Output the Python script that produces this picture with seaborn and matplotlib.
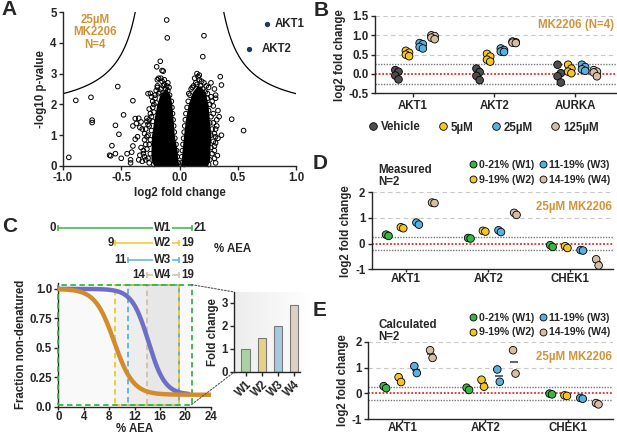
import numpy as np
import pandas as pd
import seaborn as sns
import matplotlib.pyplot as plt
from matplotlib.lines import Line2D
from matplotlib.patches import Rectangle, ConnectionPatch

# ---------------- data ----------------
# A: volcano, scattered proteins outside the dense core
volc_x = [-0.95, -0.89, -0.76, -0.75, -0.75, -0.53, -0.40, -0.48, -0.55, -0.52, -0.58,
          -0.60, -0.59, -0.55, -0.50, -0.45, -0.42, -0.42, -0.41, -0.40, -0.38, -0.40,
          -0.38, -0.35, -0.37, -0.34, -0.33, -0.32, -0.28, -0.27, -0.25, -0.196, -0.165,
          -0.15, -0.14, -0.11, -0.105, -0.19, -0.18, -0.13, -0.10, -0.09,
          0.21, 0.20, 0.15, 0.17, 0.16, 0.35, 0.36, 0.27, 0.30, 0.31, 0.31, 0.33, 0.32,
          0.448, 0.55, 0.36, 0.325, 0.31, 0.31, 0.19, 0.16, 0.13]
volc_y = [0.28, 2.13, 2.23, 1.49, 1.41, 2.58, 2.12, 1.66, 1.32, 1.03, 0.66,
          0.35, 0.33, 0.40, 0.25, 0.40, 0.20, 0.10, 0.45, 0.65, 0.87, 1.30,
          1.54, 1.55, 1.38, 1.25, 1.43, 1.20, 1.45, 2.35, 2.36, 3.22, 3.40,
          3.10, 3.08, 4.74, 4.16, 2.80, 2.85, 2.80, 2.70, 2.55,
          4.23, 3.55, 3.00, 2.95, 2.90, 2.90, 2.63, 2.70, 2.50, 2.30, 2.20, 1.80, 1.50,
          1.52, 1.15, 1.00, 0.34, 0.95, 1.20, 0.15, 0.12, 0.10]
# points along the ragged edge of the two dense lobes
edge_x = [-0.26, -0.27, -0.25, -0.28, -0.26, -0.25, -0.27, -0.24, -0.26, -0.23, -0.24, -0.22,
          -0.23, -0.20, -0.21, -0.18, -0.16, -0.14, -0.12, -0.10, -0.085, -0.07, -0.065, -0.06,
          -0.055, -0.05, -0.045, -0.04, -0.03, -0.025, -0.02, -0.01,
          -0.30, -0.31, -0.30, -0.29, -0.32, -0.35, -0.28, -0.26, -0.24, -0.20, -0.22, -0.33,
          -0.36, -0.30, -0.29, -0.31, -0.27, -0.34, -0.28, -0.25, -0.23, -0.19, -0.17, -0.15,
          -0.13, -0.11, -0.16, -0.21, -0.19, -0.22, -0.26, -0.29,
          0.015, 0.02, 0.025, 0.03, 0.035, 0.04, 0.045, 0.05, 0.055, 0.065, 0.075, 0.09, 0.10,
          0.12, 0.15, 0.18, 0.20, 0.22, 0.24, 0.26, 0.25, 0.27, 0.26, 0.28, 0.27, 0.29, 0.27,
          0.28, 0.26, 0.25,
          0.30, 0.31, 0.30, 0.32, 0.29, 0.28, 0.25, 0.21, 0.30, 0.33, 0.34, 0.29, 0.31,
          0.23, 0.19, 0.14, 0.11, 0.08, 0.17, 0.13, 0.24, 0.27, 0.29, 0.30, 0.06, 0.04]
edge_y = [0.10, 0.25, 0.40, 0.55, 0.70, 0.85, 1.00, 1.15, 1.30, 1.45, 1.60, 1.75,
          1.90, 2.05, 2.20, 2.35, 2.50, 2.60, 2.50, 2.45, 2.30, 2.10, 1.90, 1.70,
          1.50, 1.30, 1.10, 0.90, 0.70, 0.50, 0.30, 0.10,
          0.30, 0.50, 0.85, 1.20, 0.15, 0.20, 1.55, 1.85, 2.25, 2.45, 0.05, 0.60,
          0.95, 1.05, 0.70, 0.40, 1.35, 0.35, 0.95, 1.70, 2.10, 2.60, 2.40, 2.75,
          2.65, 2.60, 2.85, 2.30, 2.55, 2.00, 1.50, 0.20,
          0.10, 0.30, 0.50, 0.70, 0.90, 1.10, 1.30, 1.50, 1.70, 1.90, 2.10, 2.30, 2.50,
          2.60, 2.65, 2.60, 2.50, 2.40, 2.20, 2.00, 1.80, 1.60, 1.40, 1.20, 1.00, 0.80, 0.60,
          0.40, 0.20, 0.05,
          0.50, 0.75, 1.05, 1.30, 1.70, 2.10, 2.55, 2.70, 0.25, 0.90, 1.60, 1.95, 0.10,
          2.60, 2.75, 2.70, 2.55, 2.35, 2.80, 2.85, 2.35, 2.25, 1.40, 0.65, 0.15, 0.05]
# span of the dense lobes at each -log10 p level
lobe_left_y = [0.0, 0.2, 0.5, 1.0, 1.5, 2.0, 2.3, 2.5]
lobe_left_lo = [-0.22, -0.245, -0.245, -0.24, -0.22, -0.195, -0.17, -0.13]
lobe_left_hi = [-0.005, -0.015, -0.02, -0.045, -0.055, -0.066, -0.08, -0.11]
lobe_right_y = [0.0, 0.2, 0.5, 1.0, 1.5, 2.0, 2.4, 2.6]
lobe_right_lo = [0.01, 0.015, 0.022, 0.035, 0.05, 0.075, 0.11, 0.15]
lobe_right_hi = [0.24, 0.26, 0.26, 0.27, 0.255, 0.245, 0.22, 0.18]
hit_names = ["AKT1", "AKT2"]
hit_x = [0.75, 0.60]
hit_y = [4.61, 3.79]
# significance threshold: y = c0 + c1 / (|x| - x0)
thr_c0, thr_c1, thr_x0 = 1.58, 0.615, 0.2

# B: dose response, 4 replicates per gene
genes_b = ["AKT1", "AKT2", "AURKA"]
doses = ["Vehicle", "5µM", "25µM", "125µM"]
b_vehicle = [[0.10, 0.06, -0.04, -0.14], [0.14, 0.05, -0.05, -0.16], [0.24, 0.02, -0.06, -0.22]]
b_5um = [[0.60, 0.55, 0.50, 0.46], [0.52, 0.45, 0.37, 0.32], [0.24, 0.14, 0.06, 0.02]]
b_25um = [[0.80, 0.77, 0.70, 0.66], [0.66, 0.62, 0.58, 0.57], [0.24, 0.18, 0.12, 0.08]]
b_125um = [[1.00, 0.98, 0.94, 0.90], [0.84, 0.82, 0.81, 0.80], [0.10, 0.06, 0.04, -0.06]]

# C: solvent windows and schematic curves
win_names = ["W1", "W2", "W3", "W4"]
win_start = [0, 9, 11, 14]
win_end = [21, 19, 19, 19]
fold_change = [1.0, 1.45, 2.0, 2.9]
orange_mid, orange_k = 8.8, 1.5
blue_mid, blue_k = 14.2, 1.3
curve_floor = 0.1

# D / E: windows, 2 replicates
genes_de = ["AKT1", "AKT2", "CHEK1"]
win_labels = ["0-21% (W1)", "9-19% (W2)", "11-19% (W3)", "14-19% (W4)"]
d_w1 = [[0.35, 0.30], [0.22, 0.20], [-0.06, -0.13]]
d_w2 = [[0.64, 0.60], [0.50, 0.47], [-0.10, -0.17]]
d_w3 = [[0.82, 0.74], [0.52, 0.45], [-0.25, -0.27]]
d_w4 = [[1.60, 1.58], [1.20, 1.12], [-0.61, -0.85]]
e_w1 = [[0.28, 0.20], [0.22, 0.13], [-0.01, -0.04]]
e_w2 = [[0.63, 0.44], [0.53, 0.26], [-0.08, -0.10]]
e_w3 = [[1.06, 0.79], [0.93, 0.45], [-0.18, -0.21]]
e_w4 = [[1.68, 1.38], [1.68, 0.77], [-0.38, -0.43]]

# ---------------- style ----------------
ORANGE = "#d4923a"
FS = 8.3
dose_colors = ["#4d4d4d", "#f5c623", "#5aafdc", "#d6bea6"]
win_colors = ["#38b449", "#f5c623", "#5aafdc", "#d6bea6"]
bar_colors = ["#a3d89c", "#f8dc72", "#9ccbe8", "#e3d0bd"]

sns.set_style("ticks")
plt.rcParams["font.family"] = ["Liberation Sans", "DejaVu Sans"]
plt.rcParams["font.weight"] = "bold"
plt.rcParams["axes.labelweight"] = "bold"
plt.rcParams["axes.unicode_minus"] = False
plt.rcParams["axes.linewidth"] = 1.0
plt.rcParams["xtick.major.width"] = 1.0
plt.rcParams["ytick.major.width"] = 1.0
plt.rcParams["xtick.major.size"] = 3
plt.rcParams["ytick.major.size"] = 3

W, H = 617, 438
fig = plt.figure(figsize=(W / 100, H / 100), dpi=100)


def add_ax(l, t, r, b):
    return fig.add_axes([l / W, 1 - b / H, (r - l) / W, (b - t) / H])


def style(ax):
    sns.despine(ax=ax)
    ax.tick_params(labelsize=FS, pad=1.5)
    for lab in ax.get_xticklabels() + ax.get_yticklabels():
        lab.set_fontweight("bold")


# ---------------- A ----------------
axA = add_ax(63, 12, 296, 166)
axA.fill_betweenx(lobe_left_y, lobe_left_lo, lobe_left_hi, color="black", lw=0)
axA.fill_betweenx(lobe_right_y, lobe_right_lo, lobe_right_hi, color="black", lw=0)
df_a = pd.DataFrame({"x": volc_x + edge_x, "y": volc_y + edge_y})
sns.scatterplot(data=df_a, x="x", y="y", ax=axA, marker="o", s=11, facecolor="none",
                edgecolor="black", linewidth=0.7, clip_on=False)
xs = np.linspace(thr_x0 + thr_c1 / (5 - thr_c0), 1.0, 200)
ys = thr_c0 + thr_c1 / (xs - thr_x0)
axA.plot(xs, ys, color="black", lw=0.9)
axA.plot(-xs, ys, color="black", lw=0.9)
axA.scatter(hit_x, hit_y, s=8, color="#1f3b5a", zorder=5)
axA.text(0.82, hit_y[0], hit_names[0], fontsize=FS, va="center", ha="left")
axA.text(0.705, hit_y[1], hit_names[1], fontsize=FS, va="center", ha="left")
axA.text(-0.725, 4.95, "25µM\nMK2206\nN=4", color=ORANGE, fontsize=FS, ha="center", va="top",
         linespacing=1.1)
axA.set_xlim(-1, 1)
axA.set_ylim(0, 5)
axA.set_xticks([-1.0, -0.5, 0.0, 0.5, 1.0])
axA.set_xticklabels(["-1.0", "-0.5", "0.0", "0.5", "1.0"])
axA.set_yticks(range(6))
axA.set_xlabel("log2 fold change", fontsize=FS, labelpad=2)
axA.set_ylabel("-log10 p-value", fontsize=FS, labelpad=2)
style(axA)


# ---------------- helper for B / D / E ----------------
def ref_lines(ax, dashed):
    for v in dashed:
        ax.axhline(v, color="#c8c8c8", ls=(0, (4, 3)), lw=0.8, zorder=0)
    for v in (0.25, -0.25):
        ax.axhline(v, color="#777777", ls=(0, (1, 1)), lw=1.0, zorder=0)
    ax.axhline(0, color="#e8262b", ls=(0, (1, 1)), lw=1.3, zorder=0)


def long_df(genes, groups, arrays, offsets, jig):
    rows = []
    for gi, g in enumerate(genes):
        for ki, k in enumerate(groups):
            for ri, v in enumerate(arrays[ki][gi]):
                rows.append({"gene": g, "group": k, "val": v,
                             "pos": gi + offsets[ki] + jig[ri % len(jig)]})
    return pd.DataFrame(rows)


# ---------------- B ----------------
axB = add_ax(375, 16, 616, 93.3)
ref_lines(axB, [0.5, 1.0, 1.5])
df_b = long_df(genes_b, doses, [b_vehicle, b_5um, b_25um, b_125um],
               [-0.20, -0.07, 0.10, 0.245], [-0.02, 0.02])
sns.scatterplot(data=df_b, x="pos", y="val", hue="group", palette=dose_colors,
                hue_order=doses, s=30, edgecolor="black", linewidth=0.6, ax=axB,
                legend=False, zorder=3)
axB.set_xlim(-0.47, 2.5)
axB.set_ylim(-0.5, 1.5)
axB.set_xticks(range(3))
axB.set_xticklabels(genes_b)
axB.set_yticks([-0.5, 0.0, 0.5, 1.0, 1.5])
axB.set_yticklabels(["-0.5", "0.0", "0.5", "1.0", "1.5"])
axB.set_xlabel("")
axB.set_ylabel("log2 fold change", fontsize=FS, labelpad=2)
axB.text(2.48, 1.28, "MK2206 (N=4)", color=ORANGE, fontsize=FS, ha="right", va="center")
style(axB)
hb = [Line2D([], [], marker="o", ls="", ms=5.5, mfc=c, mec="black", mew=0.6) for c in dose_colors]
fig.legend(hb, doses, loc="center", bbox_to_anchor=(483 / W, 1 - 127.5 / H), ncol=4,
           frameon=False, fontsize=FS, handletextpad=0.2, columnspacing=1.4,
           handlelength=1.0, borderpad=0)


# ---------------- D / E ----------------
def window_panel(box, arrays, offsets, tag, tag_top, leg_cy, mk_y):
    ax = add_ax(*box)
    ref_lines(ax, [1, 2])
    df = long_df(genes_de, win_labels, arrays, offsets, [-0.015, 0.015])
    means = df.groupby(["gene", "group"], sort=False).agg(val=("val", "mean"), pos=("pos", "mean"))
    ax.plot(means["pos"], means["val"], ls="", marker="_", ms=6, mew=1.5, color="#666666",
            zorder=2)
    sns.scatterplot(data=df, x="pos", y="val", hue="group", palette=win_colors,
                    hue_order=win_labels, s=30, edgecolor="black", linewidth=0.6, ax=ax,
                    legend=False, zorder=3)
    ax.set_ylim(-1, 2)
    ax.set_yticks([-1, 0, 1, 2])
    ax.set_xticks(range(3))
    ax.set_xticklabels(genes_de)
    ax.set_xlabel("")
    ax.set_ylabel("log2 fold change", fontsize=FS, labelpad=2)
    ax.text(0.995, mk_y, "25µM MK2206", transform=ax.transAxes, color=ORANGE,
            fontsize=FS, ha="right", va="center")
    style(ax)
    ax.tick_params(axis="x", length=2, pad=0.5)
    fig.text(378 / W, 1 - tag_top / H, tag, fontsize=FS, ha="left", va="top", linespacing=1.0)
    hd = [Line2D([], [], marker="o", ls="", ms=5, mfc=c, mec="black", mew=0.6) for c in win_colors]
    fig.legend(hd, win_labels, loc="center", bbox_to_anchor=(539 / W, 1 - leg_cy / H), ncol=2,
               frameon=False, fontsize=7.6, handletextpad=0.1, columnspacing=0.3,
               handlelength=1.0, borderpad=0, labelspacing=0.45)
    return ax


axD = window_panel((371.7, 192.3, 613, 269.3), [d_w1, d_w2, d_w3, d_w4],
                   [-0.23, -0.05, 0.14, 0.33], "Measured\nN=2", 164, 172.5, 0.81)
axD.set_xlim(-0.42, 2.52)
axE = window_panel((368.3, 342, 613, 419), [e_w1, e_w2, e_w3, e_w4],
                   [-0.21, -0.03, 0.16, 0.35], "Calculated\nN=2", 319, 325, 0.80)
axE.set_xlim(-0.41, 2.54)

# ---------------- C ----------------
axC = add_ax(58.3, 283, 210.7, 406.5)
box_lo, box_hi = 0.017, 1.036
for s0, e0 in zip(win_start, win_end):
    axC.fill_between([s0, e0], box_lo, box_hi, color="black", alpha=0.022, lw=0)
for i in [3, 2, 1, 0]:
    axC.add_patch(Rectangle((win_start[i], box_lo), win_end[i] - win_start[i], box_hi - box_lo,
                            fill=False, ec=win_colors[i], ls=(0, (3, 2)), lw=1.3, zorder=3,
                            clip_on=False))
xc = np.linspace(0, 24, 300)
y_or = curve_floor + (1 - curve_floor) / (1 + np.exp((xc - orange_mid) / orange_k))
xb = np.linspace(0, 20.5, 300)
y_bl = curve_floor + (1 - curve_floor) / (1 + np.exp((xb - blue_mid) / blue_k))
sns.lineplot(x=xb, y=y_bl, ax=axC, color="#6c6fc4", lw=3.2, zorder=4)
sns.lineplot(x=xc, y=y_or, ax=axC, color="#d38c2c", lw=3.2, zorder=5)
axC.set_xlim(0, 24)
axC.set_ylim(0, 1.05)
axC.set_xticks(range(0, 25, 4))
axC.set_yticks([0.0, 0.25, 0.5, 0.75, 1.0])
axC.set_yticklabels(["0.0", "0.25", "0.5", "0.75", "1.0"])
axC.set_xlabel("% AEA", fontsize=FS, labelpad=0)
axC.set_ylabel("Fraction non-denatured", fontsize=FS, labelpad=2)
style(axC)
axC.tick_params(axis="x", length=2.5, pad=0.5)

# window bars above panel C
row_y = [1.516, 1.389, 1.248, 1.121]
for i in range(4):
    yy = row_y[i]
    axC.plot([win_start[i], win_end[i]], [yy, yy], color=win_colors[i], lw=1.1, clip_on=False)
    axC.plot([win_start[i], win_end[i]], [yy, yy], ls="", marker="|", ms=4, mew=1.1,
             color=win_colors[i], clip_on=False)
    axC.text(16.4, yy, win_names[i], fontsize=FS, ha="center", va="center",
             bbox=dict(fc="white", ec="none", pad=0.3), clip_on=False)
    axC.text(win_start[i] - 0.3, yy, str(win_start[i]), fontsize=FS, ha="right", va="center")
    axC.text(win_end[i] + 0.3, yy, str(win_end[i]), fontsize=FS, ha="left", va="center")
axC.text(27.5, 1.335, "% AEA", fontsize=FS, ha="center", va="center")

# inset bar chart
axI = add_ax(234.3, 292, 315, 372)
grad = np.linspace(0.925, 1.0, 64).reshape(1, -1)
axI.imshow(grad, extent=(-0.7, 4.28, 0, 3.46), aspect="auto", cmap="gray", vmin=0, vmax=1,
           zorder=0)
sns.barplot(x=list(range(4)), y=fold_change, ax=axI, palette=bar_colors, hue=list(range(4)),
            legend=False, width=0.52, edgecolor="#7a7a7a", linewidth=0.8, native_scale=True,
            zorder=2)
axI.set_xlim(-0.7, 4.28)
axI.set_ylim(0, 3.46)
axI.set_yticks([0, 1, 2, 3])
axI.set_xticks(range(4))
axI.set_xticklabels(win_names, rotation=45, ha="right", rotation_mode="anchor")
axI.spines["bottom"].set_bounds(-0.7, 3.35)
axI.set_ylabel("Fold change", fontsize=FS, labelpad=2)
style(axI)
for xyB in [(0, 1), (0, 0)]:
    xyA = (21, box_hi) if xyB[1] == 1 else (21, box_lo)
    con = ConnectionPatch(xyA=xyA, coordsA=axC.transData, xyB=xyB, coordsB=axI.transAxes,
                          color="#555555", ls=(0, (1.5, 1.5)), lw=0.8)
    fig.add_artist(con)

# panel letters
for letter, px, py in [("A", 1, 0), ("B", 314, 1), ("C", 2, 217), ("D", 313, 154), ("E", 313, 301)]:
    fig.text(px / W, 1 - py / H, letter, fontsize=15, fontweight="bold", ha="left", va="top")

fig.savefig("out.png", dpi=100)
